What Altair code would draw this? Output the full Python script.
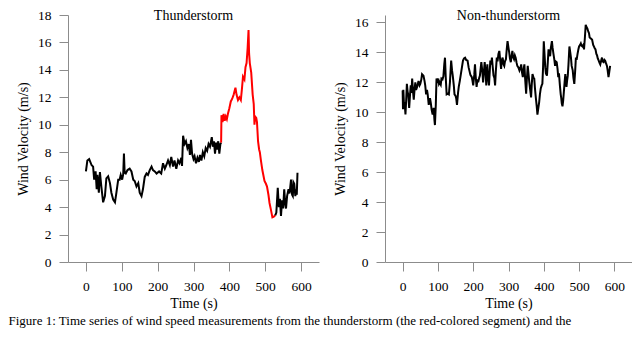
import altair as alt
import pandas as pd

# ---- Thunderstorm record (time in s, wind velocity in m/s) ----
storm_time = [0, 4, 9, 16, 20, 23, 27, 30, 32, 36, 39, 43, 48, 53, 57, 62, 67, 71, 76, 81,
              85, 90, 94, 97, 101, 104, 106, 108, 111, 116, 122, 127, 132, 136, 141, 146, 150, 155, 159, 164,
              169, 173, 178, 183, 187, 192, 197, 204, 210, 215, 220, 224, 229, 234, 238, 243, 247, 252, 257, 261,
              266, 268, 271, 275, 279, 283, 287, 290, 293, 296, 300, 303, 307, 311, 315, 318, 322, 326, 330, 334,
              338, 342, 346, 351, 354, 357, 360, 363, 366, 369, 372, 375, 377, 378, 381, 384, 387, 390, 393, 396,
              400, 404, 408, 412, 417, 420, 424, 428, 432, 435, 438, 442, 445, 448, 451, 453.5, 455, 457, 461, 465,
              468, 470, 472, 475, 477, 480, 483, 485, 488, 492, 495, 498, 502, 505, 509, 512, 516, 520, 524, 528,
              531, 535, 538, 541, 544, 547, 550, 553, 556, 558, 561, 565, 568, 572, 575, 577, 579, 581, 584, 586,
              588, 590]
storm_speed = [6.6, 7.4, 7.5, 7.05, 6.95, 6.0, 6.6, 5.3, 6.35, 5.05, 6.55, 5.5, 4.35, 4.8, 6.1, 6.25, 5.75, 5.05, 4.55, 4.35,
               5.05, 6.0, 6.0, 6.35, 6.0, 6.4, 7.9, 6.5, 6.45, 6.7, 6.8, 6.6, 6.0, 5.9, 5.5, 5.75, 5.05, 4.8, 5.3, 6.2,
               6.45, 6.35, 6.7, 6.95, 6.7, 6.6, 6.45, 6.6, 6.45, 7.2, 6.8, 7.05, 7.4, 7.05, 7.65, 6.95, 7.4, 6.8, 7.4, 7.2,
               7.6, 7.0, 9.2, 8.6, 8.8, 8.3, 8.6, 7.8, 8.9, 7.9, 7.5, 7.7, 7.2, 7.6, 7.3, 7.8, 7.4, 8.0, 7.7, 8.3,
               8.1, 8.6, 8.4, 9.1, 8.4, 8.8, 7.9, 8.7, 8.2, 8.8, 7.9, 8.6, 8.7, 10.7, 10.2, 10.8, 10.3, 10.6, 10.4, 10.8,
               11.2, 11.7, 11.9, 12.2, 12.7, 12.2, 11.8, 12.0, 11.8, 12.6, 13.5, 13.3, 14.2, 14.5, 15.6, 16.9, 15.2, 14.5, 13.8, 12.2,
               11.5, 10.0, 10.6, 10.5, 10.2, 8.8, 8.2, 8.0, 7.4, 6.7, 6.3, 5.9, 5.7, 5.5, 4.9, 4.3, 3.8, 3.25, 3.3, 3.4,
               3.6, 5.4, 4.0, 4.6, 3.35, 4.5, 3.9, 5.3, 4.2, 3.9, 4.8, 5.3, 5.0, 6.0, 4.9, 4.8, 5.8, 5.7, 4.8, 5.3,
               4.9, 6.5]
red_start = 377   # thunderstorm segment drawn in red
red_end = 528

# ---- Non-thunderstorm record ----
calm_time = [0, 1, 2, 4, 6, 8, 10, 12, 14, 16, 18.5, 21, 23, 25, 27, 29, 31.5, 34, 36, 38,
             41, 43, 45, 48, 50, 53, 55, 59, 62, 64, 66.5, 69, 71, 74, 77.5, 80, 82, 85, 88, 90,
             91.5, 94, 96, 99, 101, 103, 105, 108, 110, 113, 115.5, 118, 120, 122, 124.7, 128, 131, 134, 137.5, 140,
             142, 145, 147, 150, 152, 154, 157, 159, 162, 165, 168, 171, 174, 177, 180, 184, 187, 189, 192, 196,
             198, 200, 203, 205, 207, 209.6, 212, 214, 217, 219, 221, 223, 226, 228, 230, 232.5, 235, 237, 240, 242,
             244.7, 247, 248.5, 251, 253, 255, 257.6, 260, 262, 264, 266.8, 269, 271.5, 274, 276, 279, 281, 283.4, 286, 288,
             290, 292.7, 295, 297.3, 300, 302, 304, 306.5, 309, 311, 313, 315.7, 318, 320.3, 323, 325, 328, 331, 334, 336,
             338, 340.6, 343, 345, 347, 350, 352, 354.5, 357, 359, 361, 364, 366, 368, 371, 373, 375, 377.6, 380, 382,
             384, 387, 389, 391.4, 394, 396, 398, 400, 402, 404.3, 406, 409, 411, 413.5, 416, 418, 420, 423, 425, 427.4,
             430, 432, 434, 436.6, 439, 441, 443, 446, 448, 449.5, 451, 453, 455, 457, 459, 461, 463, 464.3, 466, 468,
             470, 472.6, 475, 477, 479, 482, 484, 486.5, 489, 491, 493, 495.7, 498, 500, 503, 505, 507, 509.5, 512, 514,
             516.5, 518.8, 521, 523.4, 526, 528, 530, 532.6, 535, 537, 540, 542, 544, 546.5, 549, 551, 553, 555.7, 558, 560,
             563, 565, 567, 569.5, 572, 574, 576, 579, 581, 583.4, 585, 588]
calm_speed = [11.45, 10.2, 11.5, 10.4, 10.5, 9.85, 10.8, 11.9, 11.4, 11.15, 10.3, 11.2, 11.8, 11.3, 12.25, 11.5, 10.85, 11.6, 12.0, 11.5,
              11.7, 11.9, 12.1, 11.8, 11.9, 12.2, 12.55, 12.45, 12.1, 11.8, 11.2, 11.5, 11.2, 10.5, 10.95, 10.6, 10.2, 9.85, 10.3, 9.5,
              9.15, 10.5, 12.25, 12.1, 12.25, 11.9, 12.0, 11.85, 12.25, 12.2, 12.4, 13.2, 13.65, 12.4, 11.2, 11.25, 11.2, 12.0, 13.45, 12.8,
              12.45, 11.8, 11.2, 11.1, 10.9, 10.5, 11.3, 11.7, 12.1, 12.55, 13.0, 13.45, 13.6, 13.65, 13.5, 13.45, 13.0, 12.8, 12.5, 12.35,
              12.1, 11.8, 12.5, 13.2, 12.4, 11.7, 12.2, 12.0, 12.3, 12.45, 12.9, 13.35, 12.7, 12.0, 12.6, 13.35, 12.7, 11.8, 13.2, 12.4,
              11.8, 12.8, 13.45, 13.2, 13.65, 13.1, 12.45, 12.3, 11.8, 12.7, 13.65, 13.4, 13.9, 14.1, 13.6, 12.9, 13.5, 13.65, 13.2, 13.1,
              13.4, 13.55, 14.2, 14.75, 14.3, 14.0, 13.6, 13.35, 13.8, 14.1, 13.7, 13.55, 13.8, 13.65, 13.3, 13.1, 13.0, 12.8, 13.0, 13.2,
              12.7, 12.35, 12.9, 13.2, 12.3, 11.25, 12.2, 13.1, 12.5, 12.0, 11.6, 11.0, 11.9, 12.55, 12.3, 12.25, 11.6, 10.95, 10.4, 9.85,
              10.2, 10.7, 11.2, 11.6, 11.8, 11.9, 13.0, 14.75, 13.9, 13.0, 12.6, 12.45, 13.2, 14.2, 13.9, 13.75, 14.3, 14.75, 14.3, 13.9,
              13.5, 13.1, 13.4, 13.35, 12.9, 12.35, 12.6, 11.7, 11.2, 10.95, 10.6, 10.4, 10.8, 11.4, 12.0, 12.55, 12.0, 11.7, 12.1, 12.45,
              13.2, 14.4, 14.0, 13.65, 13.1, 12.8, 12.3, 11.9, 12.8, 13.65, 13.5, 13.9, 14.2, 14.4, 14.5, 14.6, 14.45, 14.4, 14.5, 14.2,
              15.0, 15.85, 15.7, 15.6, 15.4, 15.3, 15.0, 14.95, 14.9, 14.85, 14.5, 14.4, 14.3, 14.2, 13.9, 13.8, 13.6, 13.45, 13.3, 13.2,
              13.5, 13.65, 13.4, 13.35, 13.5, 13.45, 13.3, 13.1, 12.8, 12.35, 12.6, 13.1]

x_ticks = [0, 100, 200, 300, 400, 500, 600]
storm_y_ticks = [0, 2, 4, 6, 8, 10, 12, 14, 16, 18]
calm_y_ticks = [0, 2, 4, 6, 8, 10, 12, 14, 16]

caption = ("Figure 1: Time series of wind speed measurements from the thunderstorm "
           "(the red-colored segment) and the")

rows = []
for t, v in zip(storm_time, storm_speed):
    if t <= red_start:
        rows.append({"t": t, "v": v, "seg": "before"})
    if red_start <= t <= red_end:
        rows.append({"t": t, "v": v, "seg": "storm"})
    if t >= red_end:
        rows.append({"t": t, "v": v, "seg": "after"})
storm_df = pd.DataFrame(rows)
calm_df = pd.DataFrame({"t": calm_time, "v": calm_speed})

FONT = "Liberation Serif"
H = 247


def x_enc():
    return alt.X("t:Q", scale=alt.Scale(domain=[-50, 650], nice=False, zero=False),
                 axis=alt.Axis(values=x_ticks, title="Time (s)", titlePadding=4))


def y_axis(ticks):
    return alt.Axis(values=ticks, title="Wind Velocity (m/s)", titlePadding=7)


def panel_title(text, dy):
    return alt.TitleParams(text, fontSize=14, font=FONT, fontWeight="normal",
                           offset=0, dy=dy, anchor="middle", color="black")


left = alt.Chart(storm_df).mark_line(strokeWidth=2).encode(
    x=x_enc(),
    y=alt.Y("v:Q", scale=alt.Scale(domain=[0, 18], nice=False), axis=y_axis(storm_y_ticks)),
    color=alt.Color("seg:N", scale=alt.Scale(domain=["before", "storm", "after"],
                                             range=["#000000", "#ff0000", "#000000"]), legend=None),
).properties(width=251, height=H, title=panel_title("Thunderstorm", 15.2))

right = alt.Chart(calm_df).mark_line(strokeWidth=2, color="#000000").encode(
    x=x_enc(),
    y=alt.Y("v:Q", scale=alt.Scale(domain=[0, 16.5], nice=False), axis=y_axis(calm_y_ticks)),
).properties(width=247, height=H, title=panel_title("Non-thunderstorm", 8.44))

chart = alt.hconcat(left, right, spacing=14).properties(
    title=alt.TitleParams(caption, orient="bottom", anchor="start", fontSize=13, font=FONT,
                          fontWeight="normal", color="black", offset=4, dx=-8),
    padding={"left": 0, "top": 0, "right": 0, "bottom": 0},
).configure_view(stroke=None).configure_axis(
    grid=False,
    domainColor="#8c8c8c",
    tickColor="#8c8c8c",
    tickSize=9,
    labelPadding=8,
    labelFont=FONT,
    labelFontSize=13.5,
    labelColor="black",
    titleFont=FONT,
    titleFontSize=14,
    titleFontWeight="normal",
    titleColor="black",
)

chart.save("out.html", embed_options={"renderer": "svg", "actions": False})
